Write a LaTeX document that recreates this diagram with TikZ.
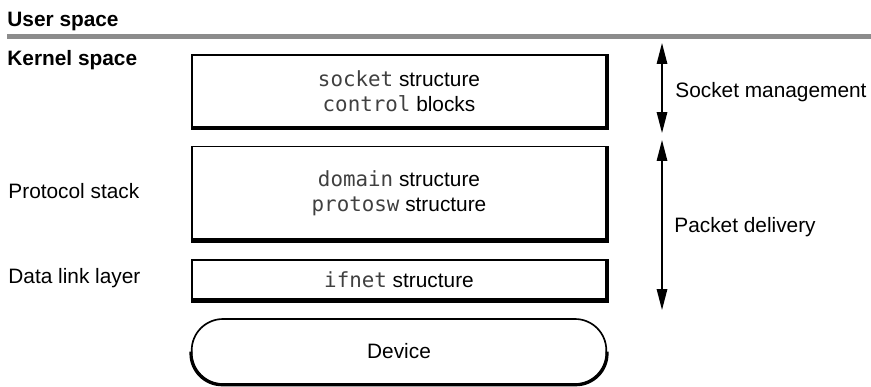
\documentclass[tikz,border=0pt]{standalone}
\usepackage{fontspec}
\setmainfont{Liberation Sans}
\setmonofont{DejaVu Sans Mono}
\usetikzlibrary{arrows.meta}

\tikzset{
    layer/.style={draw, rectangle, line width=0.8pt, inner sep=0pt, minimum width=199pt, align=center},
    heavy/.style={line width=2pt},
    side/.style={anchor=base west, inner sep=0pt},
    title/.style={side, font=\fontsize{10}{12}\selectfont\bfseries},
}
\newcommand{\ident}[1]{{\ttfamily\color{black!75}#1}}

\begin{document}
\begin{tikzpicture}[x=0.48pt, y=-0.48pt, >={Triangle[length=10pt, width=5pt]}, font=\fontsize{10}{12}\selectfont]

    \useasboundingbox (0,0) rectangle (871,386);

    % Define nodes
    \node (user) [title] at (7,26) {User space};
    \node (kernel) [title] at (7,65) {Kernel space};
    \node (stack) [side] at (8,198) {Protocol stack};
    \node (link) [side] at (8,283) {Data link layer};

    \node (sock) [layer, minimum height=34.8pt] at (399,91) {\ident{socket} structure\\\ident{control} blocks};
    \node (proto) [layer, minimum height=44.8pt] at (399,193) {\ident{domain} structure\\\ident{protosw} structure};
    \node (ifnet) [layer, minimum height=18.9pt] at (399,280) {\ident{ifnet} structure};
    \node (dev) [layer, rounded corners=15pt, minimum height=31.2pt] at (399,351.5) {Device};

    \node (mgmt) [side] at (675,97) {Socket management};
    \node (deliv) [side] at (674,232) {Packet delivery};

    \coordinate (mgmttop) at (662,43);
    \coordinate (mgmtbot) at (662,133);
    \coordinate (delivtop) at (662,140);
    \coordinate (delivbot) at (662,310);

    % User/kernel boundary
    \draw[line width=2.4pt, black!45] (7,36) -- (871,36);

    % Heavy bottom and right edges
    \foreach \b in {sock, proto, ifnet}
        \draw[heavy] (\b.south west) -- (\b.south east) -- (\b.north east);
    \draw[heavy, line width=1.4pt, rounded corners=15pt] (dev.west) |- (dev.south) -| (dev.east);

    % Draw arrows
    \draw[<->, line width=0.7pt] (mgmttop) -- (mgmtbot);
    \draw[<->, line width=0.7pt] (delivtop) -- (delivbot);

\end{tikzpicture}
\end{document}
